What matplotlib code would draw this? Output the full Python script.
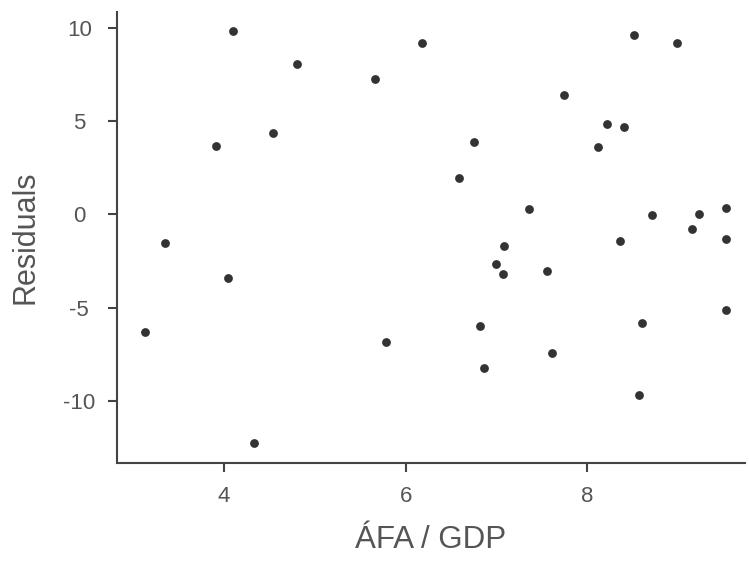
import matplotlib.pyplot as plt
import numpy as np

# ÁFA / GDP against model residuals
afa_gdp = [3.13, 3.35, 3.91, 4.04, 4.10, 4.33, 4.54, 4.80, 5.66, 5.78,
           6.18, 6.59, 6.75, 6.82, 6.86, 7.00, 7.07, 7.08, 7.36, 7.56,
           7.61, 7.74, 8.12, 8.22, 8.41, 8.36, 8.52, 8.57, 8.60, 8.71,
           8.99, 9.15, 9.23, 9.53, 9.53, 9.53]
residuals = [-6.30, -1.53, 3.67, -3.41, 9.84, -12.26, 4.37, 8.07, 7.27, -6.84,
             9.20, 1.96, 3.89, -5.98, -8.24, -2.66, -3.19, -1.69, 0.30, -3.03,
             -7.43, 6.41, 3.62, 4.86, 4.69, -1.42, 9.63, -9.68, -5.82, -0.03,
             9.20, -0.78, 0.03, 0.35, -1.31, -5.12]

x_ticks = [4, 6, 8]
y_ticks = [-10, -5, 0, 5, 10]

def main():
    plt.rcParams['font.family'] = ['Liberation Sans', 'DejaVu Sans']
    plt.rcParams['axes.unicode_minus'] = False
    fig = plt.figure(figsize=(7.49, 5.66), dpi=100)
    ax = fig.add_axes([0.156, 0.182, 0.839, 0.797])

    ax.scatter(afa_gdp, residuals, s=40, color='#333333', linewidths=0, zorder=3)

    ax.set_xlim(2.82, 9.74)
    ax.set_ylim(-13.33, 10.86)
    ax.set_xticks(x_ticks)
    ax.set_yticks(y_ticks)

    for side in ['top', 'right']:
        ax.spines[side].set_visible(False)
    for side in ['left', 'bottom']:
        ax.spines[side].set_color('#444444')
        ax.spines[side].set_linewidth(1.5)

    ax.tick_params(direction='out', length=6.5, width=1.5, color='#444444',
                   labelsize=16, labelcolor='#555555')
    ax.tick_params(axis='x', pad=10)
    # y tick labels are centred in a column left of the axis
    ax.tick_params(axis='y', pad=20.5)
    for lbl in ax.get_yticklabels():
        lbl.set_horizontalalignment('center')

    ax.set_xlabel("ÁFA / GDP", fontsize=22.5, color='#555555', labelpad=13)
    ax.set_ylabel("Residuals", fontsize=22, color='#555555', labelpad=16)

    fig.savefig("out.png", dpi=100)

if __name__ == "__main__":
    main()
